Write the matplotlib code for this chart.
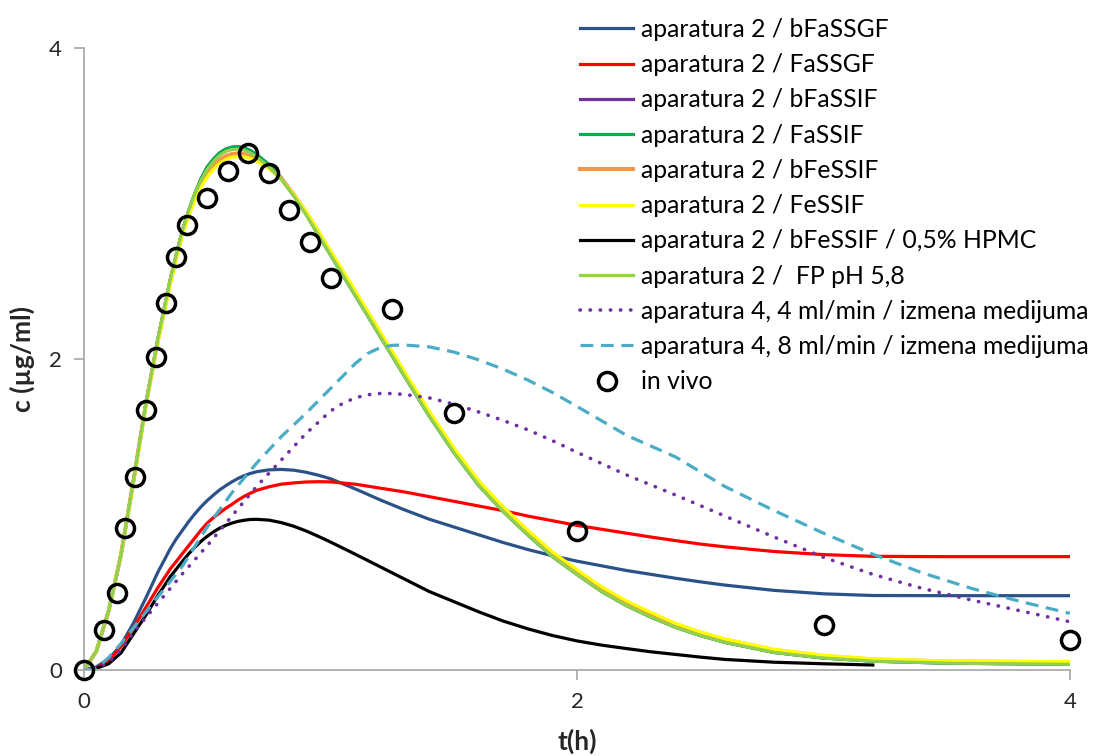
import numpy as np
from matplotlib import pyplot as plt

plt.rcParams['font.family'] = ['Lato', 'DejaVu Sans']

# vreme (h) za krive aparatura 2
t = [0, 0.05, 0.1, 0.15, 0.2, 0.25, 0.3, 0.35, 0.375, 0.4, 0.425, 0.45, 0.475, 0.5, 0.525, 0.55, 0.575,
     0.6, 0.625, 0.65, 0.675, 0.7, 0.75, 0.8, 0.85, 0.9, 0.95, 1.0, 1.1, 1.2, 1.3, 1.4, 1.5, 1.6, 1.7, 1.8,
     1.9, 2.0, 2.1, 2.2, 2.3, 2.4, 2.5, 2.6, 2.8, 3.0, 3.2, 3.5, 4.0]

bFaSSGF = [0, 0.02, 0.07, 0.16, 0.30, 0.46, 0.63, 0.78, 0.845, 0.90, 0.955, 1.005, 1.05, 1.09, 1.125, 1.158, 1.185,
           1.21, 1.232, 1.25, 1.264, 1.275, 1.287, 1.29, 1.285, 1.272, 1.253, 1.23, 1.165, 1.095, 1.03, 0.97, 0.92, 0.87, 0.82, 0.775,
           0.735, 0.70, 0.67, 0.64, 0.615, 0.59, 0.567, 0.546, 0.512, 0.49, 0.479, 0.478, 0.478]
FaSSGF = [0, 0.01, 0.06, 0.15, 0.27, 0.40, 0.53, 0.65, 0.70, 0.75, 0.80, 0.85, 0.90, 0.945, 0.98, 1.01, 1.04,
          1.065, 1.093, 1.117, 1.137, 1.155, 1.178, 1.195, 1.203, 1.209, 1.211, 1.21, 1.195, 1.17, 1.145, 1.115, 1.085, 1.055, 1.025, 0.99,
          0.96, 0.93, 0.905, 0.88, 0.855, 0.832, 0.81, 0.792, 0.762, 0.742, 0.731, 0.729, 0.729]
bFaSSIF = [0, 0.12, 0.38, 0.74, 1.21, 1.70, 2.13, 2.51, 2.675, 2.83, 2.955, 3.065, 3.16, 3.235, 3.285, 3.325, 3.35,
           3.362, 3.365, 3.358, 3.34, 3.315, 3.25, 3.165, 3.055, 2.935, 2.80, 2.67, 2.41, 2.15, 1.89, 1.635, 1.40, 1.19, 1.02, 0.87,
           0.73, 0.615, 0.505, 0.415, 0.34, 0.275, 0.222, 0.178, 0.113, 0.077, 0.057, 0.044, 0.037]
FaSSIF = [0, 0.12, 0.38, 0.74, 1.21, 1.70, 2.13, 2.51, 2.675, 2.83, 2.955, 3.065, 3.16, 3.235, 3.285, 3.325, 3.35,
          3.362, 3.365, 3.358, 3.34, 3.315, 3.25, 3.165, 3.055, 2.935, 2.80, 2.67, 2.41, 2.15, 1.89, 1.635, 1.40, 1.19, 1.02, 0.87,
          0.73, 0.615, 0.505, 0.415, 0.34, 0.275, 0.222, 0.178, 0.113, 0.077, 0.057, 0.044, 0.037]
bFeSSIF = [0, 0.12, 0.38, 0.74, 1.21, 1.70, 2.12, 2.50, 2.665, 2.82, 2.94, 3.045, 3.13, 3.195, 3.245, 3.28, 3.305,
           3.318, 3.322, 3.318, 3.305, 3.285, 3.23, 3.16, 3.06, 2.945, 2.82, 2.69, 2.43, 2.17, 1.91, 1.655, 1.42, 1.21, 1.04, 0.89,
           0.75, 0.635, 0.525, 0.435, 0.36, 0.295, 0.24, 0.195, 0.128, 0.09, 0.068, 0.055, 0.05]
FeSSIF = [0, 0.12, 0.38, 0.74, 1.20, 1.69, 2.11, 2.48, 2.645, 2.80, 2.92, 3.02, 3.105, 3.17, 3.22, 3.258, 3.283,
          3.297, 3.302, 3.30, 3.29, 3.272, 3.225, 3.155, 3.06, 2.95, 2.825, 2.695, 2.44, 2.18, 1.92, 1.665, 1.43, 1.22, 1.05, 0.90,
          0.76, 0.645, 0.535, 0.445, 0.37, 0.30, 0.245, 0.20, 0.133, 0.095, 0.072, 0.058, 0.053]
bFeSSIF_HPMC = [0, 0.01, 0.04, 0.11, 0.23, 0.35, 0.48, 0.60, 0.65, 0.70, 0.748, 0.79, 0.828, 0.86, 0.888, 0.912, 0.93,
                0.945, 0.956, 0.963, 0.968, 0.969, 0.964, 0.948, 0.925, 0.895, 0.86, 0.823, 0.745, 0.665, 0.585, 0.505, 0.44, 0.375, 0.315, 0.265,
                0.222, 0.187, 0.16, 0.138, 0.117, 0.10, 0.083, 0.068, 0.05, 0.04, 0.032]
FP_pH58 = [0, 0.12, 0.38, 0.74, 1.21, 1.70, 2.13, 2.51, 2.675, 2.83, 2.955, 3.065, 3.15, 3.22, 3.27, 3.31, 3.335,
           3.347, 3.35, 3.343, 3.325, 3.30, 3.235, 3.155, 3.05, 2.93, 2.80, 2.67, 2.41, 2.15, 1.89, 1.635, 1.40, 1.19, 1.02, 0.87,
           0.73, 0.615, 0.505, 0.415, 0.34, 0.275, 0.222, 0.178, 0.113, 0.077, 0.057, 0.044, 0.037]

# aparatura 4
t4 = [0, 0.05, 0.1, 0.15, 0.2, 0.3, 0.4, 0.5, 0.6, 0.7, 0.8, 0.9, 1.0, 1.05, 1.1, 1.15, 1.2, 1.25, 1.3, 1.4, 1.5,
      1.6, 1.7, 1.8, 1.9, 2.0, 2.2, 2.4, 2.6, 2.8, 3.0, 3.2, 3.4, 3.6, 3.8, 4.0]
ap4_4ml = [0, 0.01, 0.05, 0.13, 0.24, 0.43, 0.62, 0.80, 0.99, 1.18, 1.35, 1.52, 1.665, 1.715, 1.75, 1.77, 1.778, 1.778, 1.772, 1.75, 1.71,
           1.66, 1.605, 1.545, 1.475, 1.40, 1.255, 1.125, 0.99, 0.855, 0.725, 0.615, 0.525, 0.45, 0.38, 0.31]
ap4_8ml = [0, 0.01, 0.08, 0.17, 0.27, 0.47, 0.67, 0.92, 1.14, 1.33, 1.50, 1.65, 1.81, 1.89, 1.97, 2.035, 2.072, 2.088, 2.09, 2.078, 2.045,
           1.995, 1.935, 1.865, 1.785, 1.695, 1.51, 1.37, 1.18, 1.025, 0.88, 0.745, 0.625, 0.525, 0.44, 0.364]

# in vivo
t_vivo = [0, 0.083, 0.133, 0.167, 0.208, 0.25, 0.292, 0.333, 0.375, 0.417, 0.5, 0.583, 0.667, 0.75, 0.833,
          0.917, 1.0, 1.25, 1.5, 2, 3, 4]
c_vivo = [0, 0.257, 0.493, 0.911, 1.243, 1.672, 2.015, 2.358, 2.658, 2.862, 3.033, 3.209, 3.323, 3.194, 2.96,
          2.75, 2.524, 2.32, 1.651, 0.894, 0.289, 0.193]

fig = plt.figure(figsize=(10.94, 7.56), dpi=100)
ax = fig.add_axes([84/1094, 1-670/756, (1070-84)/1094, (670-48)/756])

lw = 2.3
ax.plot(t, bFaSSGF, color='#2B5288', lw=lw, label='aparatura 2 / bFaSSGF')
ax.plot(t, FaSSGF, color='#FF0000', lw=lw, label='aparatura 2 / FaSSGF')
ax.plot(t, bFaSSIF, color='#7030A0', lw=lw, label='aparatura 2 / bFaSSIF')
ax.plot(t, FaSSIF, color='#00B050', lw=lw, label='aparatura 2 / FaSSIF')
ax.plot(t, bFeSSIF, color='#F79646', lw=lw+0.6, label='aparatura 2 / bFeSSIF')
ax.plot(t, FeSSIF, color='#FFFF00', lw=lw, label='aparatura 2 / FeSSIF')
ax.plot(t[:len(bFeSSIF_HPMC)], bFeSSIF_HPMC, color='black', lw=lw, label='aparatura 2 / bFeSSIF / 0,5% HPMC')
ax.plot(t, FP_pH58, color='#92D050', lw=lw, label='aparatura 2 /  FP pH 5,8')
ax.plot(t4, ap4_4ml, color='#7030A0', lw=2.6, linestyle=(0, (0.1, 2.7)), dash_capstyle='round',
        label='aparatura 4, 4 ml/min / izmena medijuma')
ax.plot(t4, ap4_8ml, color='#4BACC6', lw=lw, linestyle=(0, (4, 2.4)),
        label='aparatura 4, 8 ml/min / izmena medijuma')
ax.plot(t_vivo, c_vivo, 'o', ms=13, mfc='none', mec='black', mew=2.5, clip_on=False, zorder=5, label='in vivo')

ax.set_xlim(0, 4)
ax.set_ylim(0, 4)
ax.set_xticks([0, 2, 4])
ax.set_yticks([0, 2, 4])
for s in ['top', 'right']:
    ax.spines[s].set_visible(False)
for s in ['left', 'bottom']:
    ax.spines[s].set_color('#A6A6A6')
    ax.spines[s].set_linewidth(1.2)
ax.tick_params(colors='#A6A6A6', labelcolor='#262626', length=7, width=1.2, labelsize=16, pad=9)

ax.set_xlabel('t(h)', fontsize=19, fontweight='bold', color='#262626', labelpad=12)
ax.set_ylabel('c (µg/ml)', fontsize=19, fontweight='bold', color='#262626', labelpad=10)

fig.legend(loc='upper left', bbox_to_anchor=(580/1094, 1-18/756), frameon=False, fontsize=17.8,
           handlelength=2.15, handletextpad=0.33, labelspacing=0.495, borderpad=0, borderaxespad=0,
           labelcolor='black')

plt.savefig('out.png', dpi=100)
